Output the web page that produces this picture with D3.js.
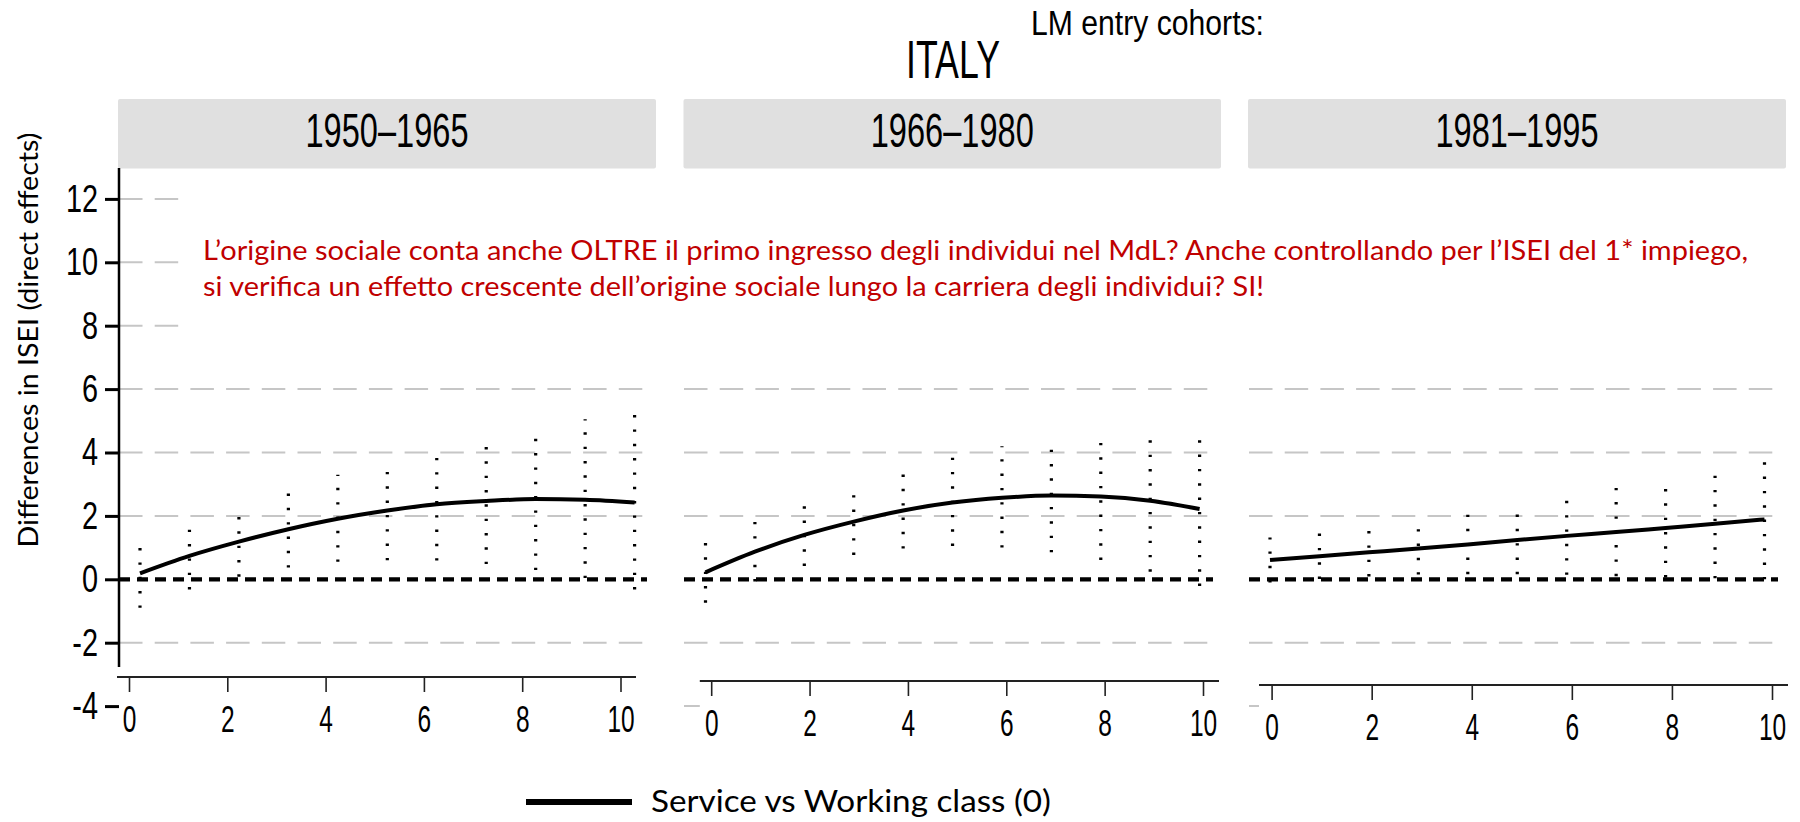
<!DOCTYPE html>
<html>
<head>
<meta charset="utf-8">
<script src="https://cdn.jsdelivr.net/npm/d3@7"></script>
<style>
  html, body { margin: 0; padding: 0; background: #fff; }
  svg { display: block; }
</style>
</head>
<body>
<svg id="chart" width="1800" height="822"></svg>
<script>
// ---- data -------------------------------------------------------------
// Labour-market entry cohorts (one panel each)
const cohorts = ["1950–1965", "1966–1980", "1981–1995"];
// Years since first job
const years = [0, 1, 2, 3, 4, 5, 6, 7, 8, 9, 10];

// Service vs Working class (0): direct effect on ISEI, with confidence bounds
const est1950 = [0.19, 0.74, 1.19, 1.58, 1.91, 2.17, 2.37, 2.47, 2.53, 2.51, 2.42];
const lo1950  = [-0.90, -0.32, 0.08, 0.37, 0.55, 0.60, 0.59, 0.48, 0.29, 0.04, -0.32];
const hi1950  = [1.30, 1.80, 2.30, 2.79, 3.30, 3.70, 4.15, 4.46, 4.77, 5.05, 5.20];

const est1966 = [0.22, 0.87, 1.40, 1.82, 2.17, 2.42, 2.57, 2.64, 2.61, 2.48, 2.22];
const lo1966  = [-0.74, -0.07, 0.42, 0.77, 0.97, 1.05, 1.00, 0.85, 0.61, 0.24, -0.21];
const hi1966  = [1.18, 1.81, 2.38, 2.87, 3.36, 3.85, 4.20, 4.43, 4.61, 4.72, 4.65];

const est1981 = [0.61, 0.73, 0.85, 0.97, 1.10, 1.24, 1.37, 1.49, 1.62, 1.75, 1.89];
const lo1981  = [-0.10, 0.01, 0.09, 0.15, 0.16, 0.16, 0.14, 0.10, 0.06, 0.03, 0.00];
const hi1981  = [1.32, 1.45, 1.61, 1.79, 2.04, 2.32, 2.60, 2.88, 3.18, 3.47, 3.75];

const yTicks = [12, 10, 8, 6, 4, 2, 0, -2, -4];
const gridValues = [12, 10, 8, 6, 4, 2, -2, -4];
const xTicks = [0, 2, 4, 6, 8, 10];

const seriesEst = [est1950, est1966, est1981];
const seriesLo  = [lo1950, lo1966, lo1981];
const seriesHi  = [hi1950, hi1966, hi1981];

const titleText = "ITALY";
const subtitleText = "LM entry cohorts:";
const yTitle = "Differences in ISEI (direct effects)";
const legendLabel = "Service vs Working class (0)";
const noteLines = [
  "L’origine sociale conta anche OLTRE il primo ingresso degli individui nel  MdL? Anche controllando per l’ISEI del 1* impiego,",
  "si verifica un effetto crescente dell’origine sociale lungo la carriera degli individui? SI!"
];

// ---- layout -----------------------------------------------------------
const STATA = "'Liberation Sans', Arial, sans-serif";
const CAL = "Lato, 'Open Sans', sans-serif";
const GRID = "#c6c6c6";
const STRIP = "#e0e0e0";
const RED = "#c00000";

const panels = [
  { strip: [118, 656],    plot: [119, 645],   data: [140, 634.6],   axis: [129, 620.5],  axisLine: [117, 636],   axisY: 677 },
  { strip: [683.5, 1221], plot: [684, 1211],  data: [705.5, 1199.6], axis: [711.2, 1203], axisLine: [699.8, 1219], axisY: 681 },
  { strip: [1248, 1786],  plot: [1249, 1776], data: [1270, 1764.5], axis: [1271.6, 1772], axisLine: [1259, 1788], axisY: 685 }
];

const y = d3.scaleLinear().domain([0, 2]).range([579.3, 515.9]);
const yAxisTop = 168, yAxisBottom = 667;

const svg = d3.select("#chart");

function condense(sel, k) {
  sel.each(function () {
    const w = this.getComputedTextLength();
    d3.select(this).attr("textLength", w * k).attr("lengthAdjust", "spacingAndGlyphs");
  });
}

// ---- panels -----------------------------------------------------------
panels.forEach((p, i) => {
  const g = svg.append("g").attr("class", "panel");
  const xData = d3.scaleLinear().domain([0, 10]).range(p.data);
  const xAxisScale = d3.scaleLinear().domain([0, 10]).range(p.axis);

  // strip header
  g.append("rect")
    .attr("x", p.strip[0]).attr("y", 99)
    .attr("width", p.strip[1] - p.strip[0]).attr("height", 69.5)
    .attr("rx", 2).attr("fill", STRIP);
  g.append("text")
    .attr("x", (p.strip[0] + p.strip[1]) / 2).attr("y", 147.3)
    .attr("text-anchor", "middle")
    .attr("font-family", STATA).attr("font-size", 47.5).attr("fill", "#000")
    .attr("textLength", 163).attr("lengthAdjust", "spacingAndGlyphs")
    .text(cohorts[i]);

  // gridlines
  g.append("g").selectAll("line").data(gridValues).join("line")
    .attr("x1", p.plot[0]).attr("x2", p.plot[1])
    .attr("y1", d => y(d)).attr("y2", d => y(d))
    .attr("stroke", GRID).attr("stroke-width", 2)
    .attr("stroke-dasharray", "23.5 12.2");

  // reference line at zero
  g.append("line")
    .attr("x1", p.plot[0]).attr("x2", p.plot[1] + 2)
    .attr("y1", y(0)).attr("y2", y(0))
    .attr("stroke", "#000").attr("stroke-width", 4.2)
    .attr("stroke-dasharray", "11 7");

  // confidence intervals: dotted verticals from lower to upper bound
  g.append("g").selectAll("line").data(years).join("line")
    .attr("x1", d => xData(d)).attr("x2", d => xData(d))
    .attr("y1", (d, j) => y(seriesLo[i][j]))
    .attr("y2", (d, j) => y(seriesHi[i][j]))
    .attr("stroke", "#000").attr("stroke-width", 3.2)
    .attr("stroke-dasharray", "2.4 11.93");

  // fitted line
  const line = d3.line()
    .x((d, j) => xData(years[j]))
    .y(d => y(d))
    .curve(d3.curveMonotoneX);
  g.append("path").datum(seriesEst[i])
    .attr("d", line)
    .attr("fill", "none").attr("stroke", "#000").attr("stroke-width", 4);

  // x axis (white backing hides the grid behind it)
  g.append("rect")
    .attr("x", p.axisLine[0]).attr("y", p.axisY - 4)
    .attr("width", p.plot[1] - p.axisLine[0] + 14).attr("height", 70)
    .attr("fill", "#fff");
  const ax = g.append("g")
    .attr("transform", `translate(0,${p.axisY})`)
    .call(d3.axisBottom(xAxisScale).tickValues(xTicks).tickSize(15).tickPadding(14)
      .tickFormat(d => String(d)));
  ax.select(".domain").remove();
  ax.selectAll(".tick line").attr("stroke", "#222").attr("stroke-width", 1.6);
  ax.selectAll(".tick text")
    .attr("font-family", STATA).attr("font-size", 36).attr("fill", "#000")
    .call(condense, 0.68);
  g.append("line")
    .attr("x1", p.axisLine[0]).attr("x2", p.axisLine[1])
    .attr("y1", p.axisY).attr("y2", p.axisY)
    .attr("stroke", "#222").attr("stroke-width", 2);
});

// ---- y axis (first panel) --------------------------------------------
const yAx = svg.append("g")
  .attr("transform", "translate(119,0)")
  .call(d3.axisLeft(y).tickValues(yTicks).tickSize(14).tickPadding(7)
    .tickFormat(d => String(d)));
yAx.select(".domain").remove();
yAx.selectAll(".tick line").attr("stroke", "#000").attr("stroke-width", 3);
yAx.selectAll(".tick text")
  .attr("font-family", STATA).attr("font-size", 39).attr("fill", "#000")
  .call(condense, 0.74);
svg.append("line")
  .attr("x1", 119).attr("x2", 119)
  .attr("y1", yAxisTop).attr("y2", yAxisBottom)
  .attr("stroke", "#000").attr("stroke-width", 2.5);

svg.append("text")
  .attr("transform", "translate(38,340) rotate(-90)")
  .attr("text-anchor", "middle")
  .attr("font-family", CAL).attr("font-size", 26).attr("fill", "#000")
  .attr("textLength", 415).attr("lengthAdjust", "spacingAndGlyphs")
  .text(yTitle);

// ---- note box ---------------------------------------------------------
svg.append("rect")
  .attr("x", 180).attr("y", 170).attr("width", 1620).attr("height", 192)
  .attr("fill", "#fff");
svg.append("g").selectAll("text").data(noteLines).join("text")
  .attr("x", 203).attr("y", (d, i) => 259.5 + i * 36.5)
  .attr("font-family", CAL).attr("font-size", 27).attr("fill", RED)
  .attr("textLength", (d, i) => i === 0 ? 1545 : 1061)
  .attr("lengthAdjust", "spacingAndGlyphs")
  .text(d => d);

// ---- titles -----------------------------------------------------------
svg.append("text")
  .attr("x", 953).attr("y", 78).attr("text-anchor", "middle")
  .attr("font-family", STATA).attr("font-size", 53).attr("fill", "#000")
  .attr("textLength", 94).attr("lengthAdjust", "spacingAndGlyphs")
  .text(titleText);
svg.append("text")
  .attr("x", 1031).attr("y", 35)
  .attr("font-family", STATA).attr("font-size", 35).attr("fill", "#000")
  .attr("textLength", 233).attr("lengthAdjust", "spacingAndGlyphs")
  .text(subtitleText);

// ---- legend -----------------------------------------------------------
svg.append("line")
  .attr("x1", 526).attr("x2", 632).attr("y1", 802).attr("y2", 802)
  .attr("stroke", "#000").attr("stroke-width", 6);
svg.append("text")
  .attr("x", 651).attr("y", 812)
  .attr("font-family", CAL).attr("font-size", 31).attr("fill", "#000")
  .attr("textLength", 400).attr("lengthAdjust", "spacingAndGlyphs")
  .text(legendLabel);
</script>
</body>
</html>
